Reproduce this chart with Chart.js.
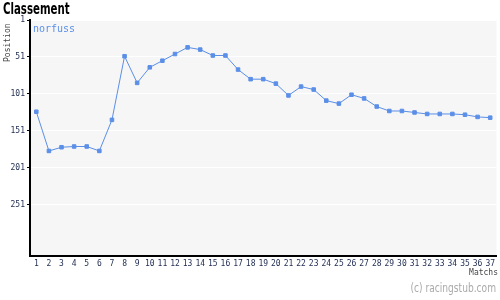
<!DOCTYPE html>
<html>
<head>
<meta charset="utf-8">
<script src="https://cdn.jsdelivr.net/npm/chart.js@4"></script>
<style>
  html, body { margin: 0; padding: 0; background: #fff; }
  #wrap { width: 500px; height: 300px; }
</style>
</head>
<body>
<div id="wrap"><canvas id="classementChart" width="500" height="300"></canvas></div>
<script>
// matches 1..37
const matchLabels = ['1','2','3','4','5','6','7','8','9','10','11','12','13','14','15','16','17','18','19',
    '20','21','22','23','24','25','26','27','28','29','30','31','32','33','34','35','36','37'];
// position after each match
const positions = [125, 178, 173, 172, 172, 178, 136, 50, 86, 65, 56, 47, 38, 41, 49, 49, 68, 81, 81,
    87, 103, 91, 95, 110, 114, 102, 107, 118, 124, 124, 126, 128, 128, 128, 129, 132, 133];
const yTicks = [1, 51, 101, 151, 201, 251];

const seriesName = 'norfuss';
const lineColor = '#5b8fe8';

// background of the plot area + extra texts
const decorPlugin = {
    id: 'decor',
    beforeDraw(chart) {
        const { ctx, chartArea } = chart;
        ctx.save();
        ctx.fillStyle = '#f6f6f6';
        ctx.fillRect(chartArea.left, chartArea.top, chartArea.right - chartArea.left, chartArea.bottom - chartArea.top);
        ctx.restore();
    },
    afterDraw(chart) {
        const { ctx, chartArea } = chart;
        // title (narrow font)
        ctx.save();
        ctx.fillStyle = '#000';
        ctx.font = 'bold 15px "DejaVu Sans"';
        ctx.textBaseline = 'top';
        ctx.textAlign = 'left';
        ctx.translate(3, 3);
        ctx.scale(0.68, 1);
        ctx.fillText('Classement', 0, 0);
        ctx.restore();

        ctx.save();
        // series name
        ctx.fillStyle = lineColor;
        ctx.font = '10px "DejaVu Sans Mono"';
        ctx.textBaseline = 'top';
        ctx.fillText(seriesName, chartArea.left + 3, chartArea.top + 4);
        // y axis title
        ctx.fillStyle = '#444';
        ctx.font = '8px "DejaVu Sans Mono"';
        ctx.translate(8, 62);
        ctx.rotate(-Math.PI / 2);
        ctx.textBaseline = 'middle';
        ctx.fillText('Position', 0, 0);
        ctx.restore();

        ctx.save();
        ctx.fillStyle = '#444';
        ctx.font = '8px "DejaVu Sans Mono"';
        ctx.textAlign = 'right';
        ctx.textBaseline = 'middle';
        ctx.fillText('Matchs', 498, 273);
        ctx.restore();

        ctx.save();
        ctx.fillStyle = '#aaa';
        ctx.font = '13px "DejaVu Sans"';
        ctx.textAlign = 'right';
        ctx.textBaseline = 'middle';
        ctx.translate(496, 289);
        ctx.scale(0.7, 1);
        ctx.fillText('(c) racingstub.com', 0, 0);
        ctx.restore();
    }
};

const ctx = document.getElementById('classementChart').getContext('2d');
const myChart = new Chart(ctx, {
    type: 'line',
    data: {
        labels: matchLabels,
        datasets: [{
            label: seriesName,
            data: positions,
            borderColor: lineColor,
            backgroundColor: lineColor,
            borderWidth: 1,
            pointStyle: 'rect',
            pointRadius: 2.5,
            pointHoverRadius: 2.5,
            tension: 0,
            fill: false
        }]
    },
    options: {
        responsive: false,
        animation: false,
        devicePixelRatio: 1,
        layout: {
            padding: { top: 20, right: 2, bottom: 30, left: 0 }
        },
        plugins: {
            legend: { display: false },
            title: { display: false },
            tooltip: { enabled: false }
        },
        scales: {
            x: {
                offset: true,
                grid: { display: false, drawTicks: false },
                border: { display: true, color: '#000', width: 2 },
                ticks: {
                    color: '#1e2b50',
                    font: { family: 'DejaVu Sans Mono', size: 8 },
                    padding: 3,
                    maxRotation: 0,
                    autoSkip: false
                },
                afterFit(scale) { scale.height = 14; }
            },
            y: {
                reverse: true,
                min: 1,
                max: 320,
                afterBuildTicks(scale) {
                    scale.ticks = yTicks.map(v => ({ value: v }));
                },
                grid: {
                    color: '#ffffff',
                    lineWidth: 1,
                    drawTicks: true,
                    tickLength: 3,
                    tickColor: '#000'
                },
                border: { display: true, color: '#000', width: 2 },
                ticks: {
                    color: '#1e2b50',
                    font: { family: 'DejaVu Sans Mono', size: 8 },
                    padding: 2
                },
                afterFit(scale) { scale.width = 30; }
            }
        }
    },
    plugins: [decorPlugin]
});
</script>
</body>
</html>
